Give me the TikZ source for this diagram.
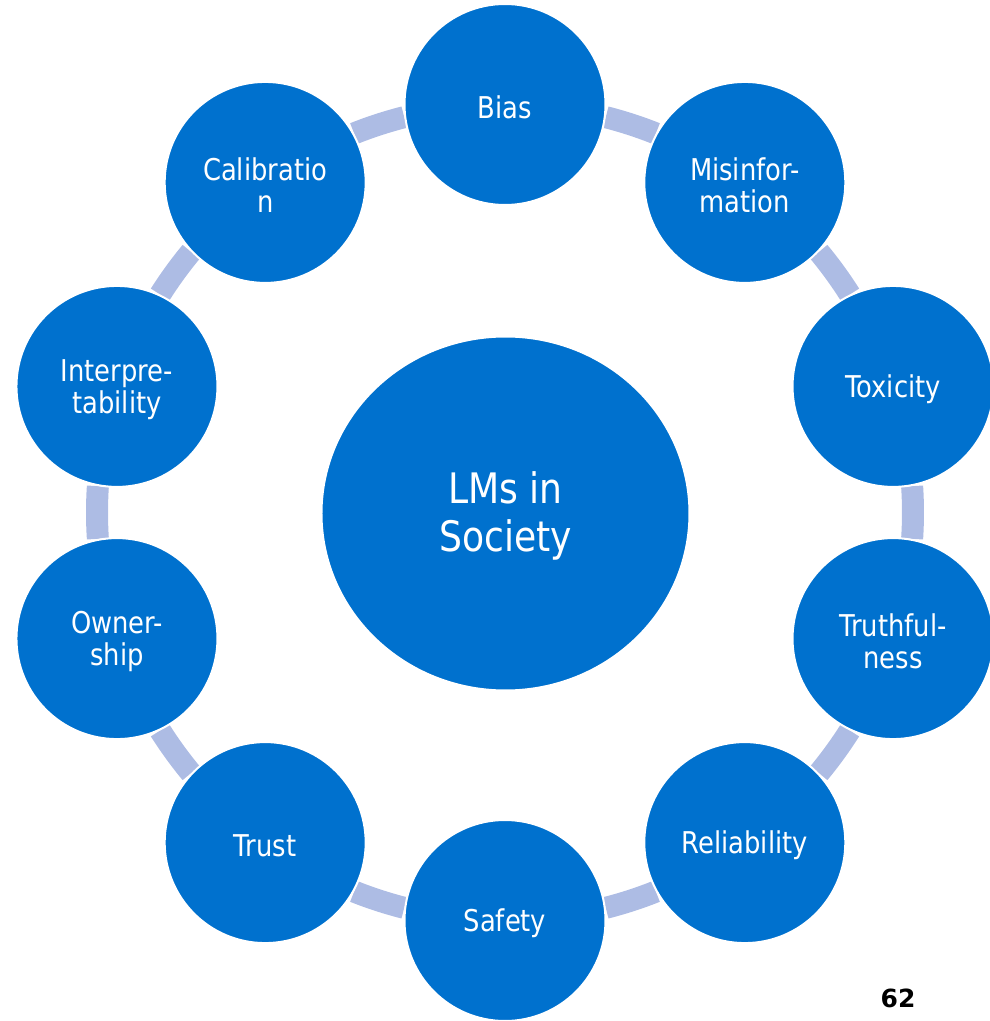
\documentclass[tikz,border=0pt]{standalone}
\usepackage{fontspec}
\setmainfont{DejaVu Sans}[FakeStretch=0.86]
\newfontfamily\pgnumfont{DejaVu Sans}
\usetikzlibrary{shapes.geometric}
\definecolor{nodeblue}{RGB}{0,113,206}
\definecolor{ringblue}{RGB}{173,188,228}
\tikzset{
  outer/.style={circle, fill=nodeblue, draw=white, line width=2pt, minimum size=201pt, inner sep=0pt},
  outertext/.style={text=white, align=center, inner sep=0pt, yshift=-3pt, font=\fontsize{30}{32}\selectfont},
  hub/.style={ellipse, fill=nodeblue, draw=white, line width=2pt, minimum width=368pt, minimum height=354pt,
    inner sep=0pt},
  hubtext/.style={text=white, align=center, inner sep=0pt, yshift=-2pt, font=\fontsize{42}{48}\selectfont},
  ringarc/.style={draw=ringblue, line width=22pt},
  pagenum/.style={font=\pgnumfont\bfseries\fontsize{25}{30}\selectfont, text=black, anchor=base}
}
\begin{document}
\begin{tikzpicture}[x=1pt,y=1pt]
\useasboundingbox (-505,-508.5) rectangle (485,512.5);
\coordinate (ctr) at (0,0);
% connecting arcs
\foreach \m in {72,36,0,-36,-72,-108,-144,-180,144,108}{
  \draw[ringarc] (ctr) ++(\m-3.7:408) arc[start angle=\m-3.7, end angle=\m+3.7, radius=408];
}
% hub
\node[hub, label={[hubtext]center:LMs in\\Society}] (hub) at (0.5,-1) {};
% outer circles
\node[outer, label={[outertext]center:Bias}] (bias) at (90:408) {};
\node[outer, label={[outertext]center:Misinfor-\\mation}] (misinfo) at (54:408) {};
\node[outer, label={[outertext]center:Toxicity}] (toxicity) at (18:408) {};
\node[outer, label={[outertext]center:Truthful-\\ness}] (truth) at (-18:408) {};
\node[outer, label={[outertext]center:Reliability}] (reliab) at (-54:408) {};
\node[outer, label={[outertext]center:Safety}] (safety) at (-90:408) {};
\node[outer, label={[outertext]center:Trust}] (trust) at (-126:408) {};
\node[outer, label={[outertext]center:Owner-\\ship}] (owner) at (-162:408) {};
\node[outer, label={[outertext]center:Interpre-\\tability}] (interp) at (162:408) {};
\node[outer, label={[outertext]center:Calibratio\\n}] (calib) at (126:408) {};
% page number
\node[pagenum] (pnum) at (393,-494.5) {62};
\end{tikzpicture}
\end{document}
